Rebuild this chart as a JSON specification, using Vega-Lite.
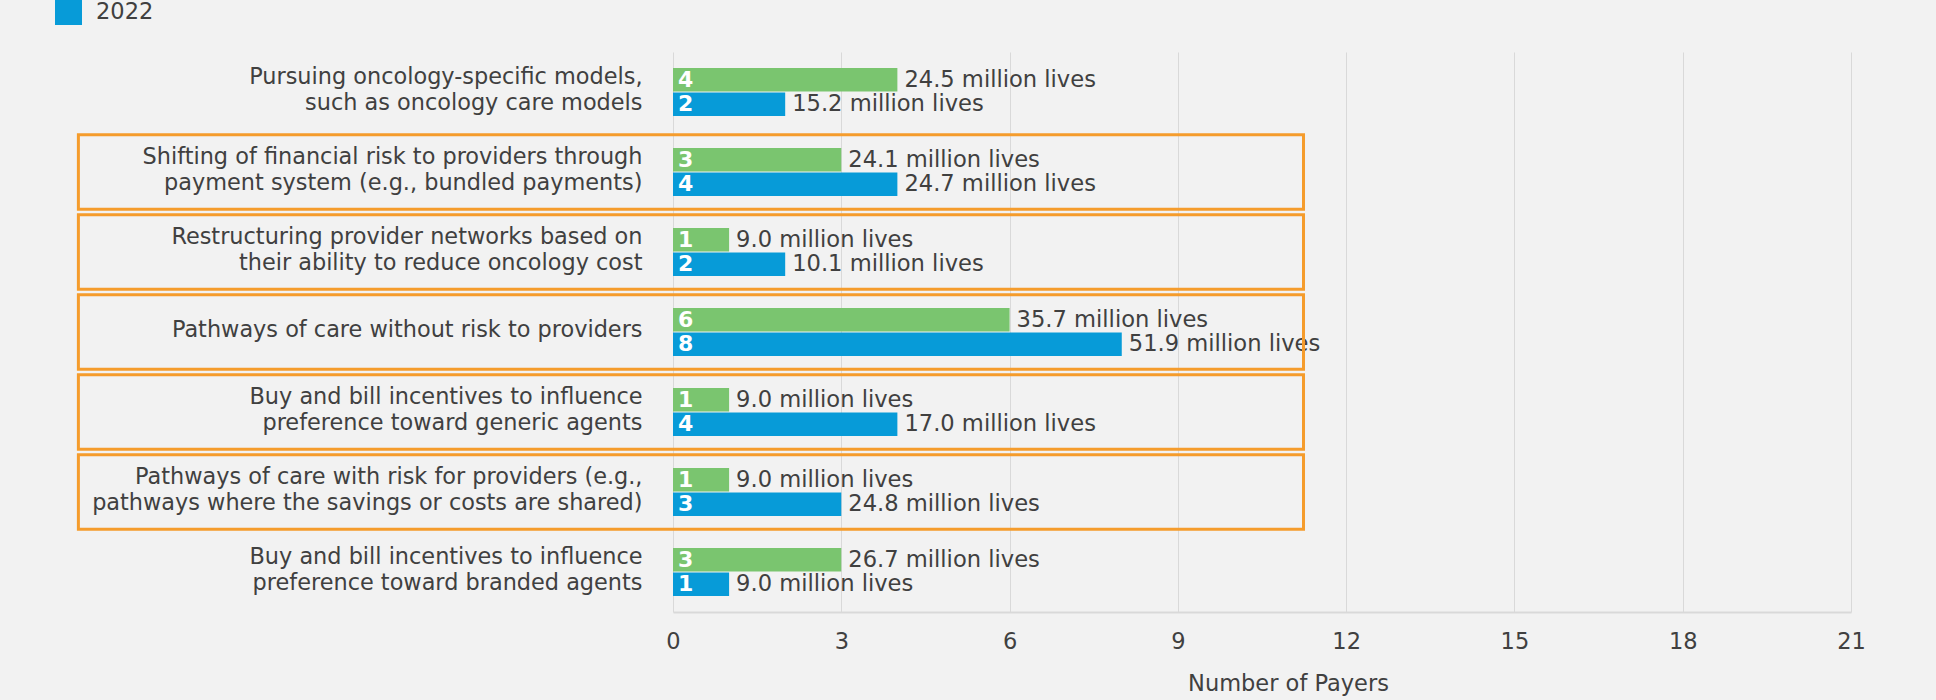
{
  "$schema": "https://vega.github.io/schema/vega-lite/v6.json",
  "autosize": "none",
  "width": 1178,
  "height": 560,
  "padding": {"left": 673, "top": 52, "right": 85, "bottom": 88},
  "background": "#f2f2f2",
  "config": {
    "view": {"stroke": null},
    "font": "DejaVu Sans"
  },
  "datasets": {
    "bars": [
      {"cat": "Pursuing oncology-specific models,|such as oncology care models", "year": "2021", "payers": 4, "lives": 24.5},
      {"cat": "Pursuing oncology-specific models,|such as oncology care models", "year": "2022", "payers": 2, "lives": 15.2},
      {"cat": "Shifting of financial risk to providers through|payment system (e.g., bundled payments)", "year": "2021", "payers": 3, "lives": 24.1},
      {"cat": "Shifting of financial risk to providers through|payment system (e.g., bundled payments)", "year": "2022", "payers": 4, "lives": 24.7},
      {"cat": "Restructuring provider networks based on|their ability to reduce oncology cost", "year": "2021", "payers": 1, "lives": 9.0},
      {"cat": "Restructuring provider networks based on|their ability to reduce oncology cost", "year": "2022", "payers": 2, "lives": 10.1},
      {"cat": "Pathways of care without risk to providers", "year": "2021", "payers": 6, "lives": 35.7},
      {"cat": "Pathways of care without risk to providers", "year": "2022", "payers": 8, "lives": 51.9},
      {"cat": "Buy and bill incentives to influence|preference toward generic agents", "year": "2021", "payers": 1, "lives": 9.0},
      {"cat": "Buy and bill incentives to influence|preference toward generic agents", "year": "2022", "payers": 4, "lives": 17.0},
      {"cat": "Pathways of care with risk for providers (e.g.,|pathways where the savings or costs are shared)", "year": "2021", "payers": 1, "lives": 9.0},
      {"cat": "Pathways of care with risk for providers (e.g.,|pathways where the savings or costs are shared)", "year": "2022", "payers": 3, "lives": 24.8},
      {"cat": "Buy and bill incentives to influence|preference toward branded agents", "year": "2021", "payers": 3, "lives": 26.7},
      {"cat": "Buy and bill incentives to influence|preference toward branded agents", "year": "2022", "payers": 1, "lives": 9.0}
    ],
    "boxes": [
      {"cat": "Shifting of financial risk to providers through|payment system (e.g., bundled payments)"},
      {"cat": "Restructuring provider networks based on|their ability to reduce oncology cost"},
      {"cat": "Pathways of care without risk to providers"},
      {"cat": "Buy and bill incentives to influence|preference toward generic agents"},
      {"cat": "Pathways of care with risk for providers (e.g.,|pathways where the savings or costs are shared)"}
    ]
  },
  "resolve": {"scale": {"y": "independent"}, "axis": {"y": "independent"}},
  "layer": [
    {
      "data": {"name": "bars"},
      "transform": [
        {"calculate": "format(datum.lives, '.1f') + ' million lives'", "as": "livesLabel"}
      ],
      "encoding": {
        "y": {
          "field": "cat", "type": "nominal", "sort": null,
          "scale": {"paddingInner": 0.4, "paddingOuter": 0.2},
          "axis": {
            "title": null, "domain": false, "ticks": false, "grid": false,
            "labelExpr": "split(datum.value, '|')",
            "labelFontSize": 22.4, "labelColor": "#404040", "labelPadding": 31,
            "labelLineHeight": 26, "labelLimit": 700,
            "labelOffset": {"condition": {"test": "indexof(datum.value, '|') >= 0", "value": -15}, "value": -2}
          }
        },
        "yOffset": {"field": "year", "type": "nominal", "scale": {"paddingInner": 0.04}},
        "x": {
          "field": "payers", "type": "quantitative",
          "scale": {"domain": [0, 21], "nice": false},
          "axis": {
            "values": [0, 3, 6, 9, 12, 15, 18, 21], "format": "d", "labelFlush": false,
            "title": "Number of Payers", "titleFontSize": 22.5, "titleFontWeight": "normal",
            "titleColor": "#404040", "titlePadding": 20, "titleX": 615,
            "labelFontSize": 22.5, "labelColor": "#404040", "labelPadding": 18,
            "ticks": false, "domainColor": "#d9d9d9", "domainWidth": 2,
            "gridColor": "#d9d9d9", "gridWidth": 1
          }
        }
      },
      "layer": [
        {
          "mark": {"type": "bar"},
          "encoding": {
            "color": {
              "field": "year", "type": "nominal",
              "scale": {"domain": ["2021", "2022"], "range": ["#7ac56f", "#079bd8"]},
              "legend": {
                "title": null, "orient": "none", "legendX": -618, "legendY": -89,
                "symbolType": "square", "symbolSize": 729, "symbolStrokeWidth": 0,
                "labelFontSize": 22.5, "labelColor": "#404040", "labelOffset": 14,
                "rowPadding": 8
              }
            }
          }
        },
        {
          "mark": {"type": "text", "align": "left", "baseline": "middle", "dx": 5, "fontWeight": "bold", "fontSize": 22, "color": "white"},
          "encoding": {
            "x": {"datum": 0},
            "text": {"field": "payers", "type": "quantitative"}
          }
        },
        {
          "mark": {"type": "text", "align": "left", "baseline": "middle", "dx": 7, "fontSize": 22.6, "color": "#404040"},
          "encoding": {
            "text": {"field": "livesLabel", "type": "nominal"}
          }
        }
      ]
    },
    {
      "data": {"name": "boxes"},
      "mark": {"type": "rect", "fill": null, "filled": false, "stroke": "#f59c2c", "strokeWidth": 3},
      "encoding": {
        "y": {
          "field": "cat", "type": "nominal",
          "scale": {
            "domain": [
              "Pursuing oncology-specific models,|such as oncology care models",
              "Shifting of financial risk to providers through|payment system (e.g., bundled payments)",
              "Restructuring provider networks based on|their ability to reduce oncology cost",
              "Pathways of care without risk to providers",
              "Buy and bill incentives to influence|preference toward generic agents",
              "Pathways of care with risk for providers (e.g.,|pathways where the savings or costs are shared)",
              "Buy and bill incentives to influence|preference toward branded agents"
            ],
            "paddingInner": 0.07, "paddingOuter": 0.035
          },
          "axis": null
        },
        "x": {"datum": -10.6},
        "x2": {"datum": 11.24}
      }
    }
  ]
}
